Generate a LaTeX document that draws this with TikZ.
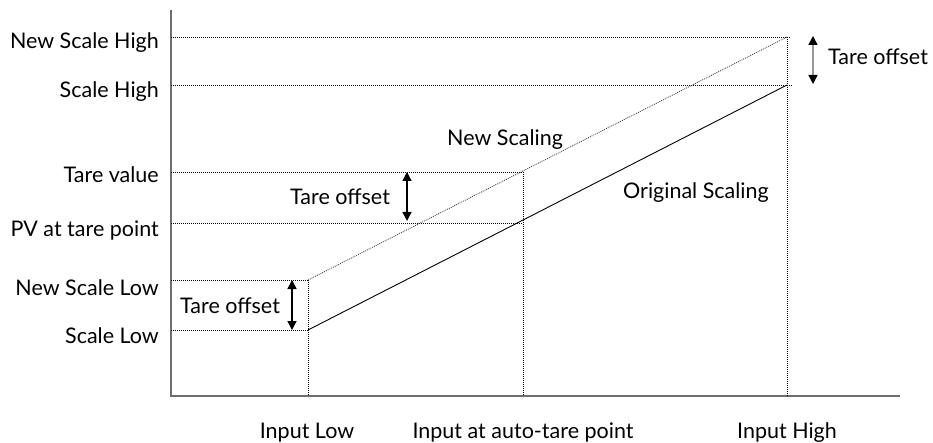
\documentclass[tikz,border=0pt]{standalone}
\usepackage{fontspec}
\setmainfont{Lato}
\usepackage{tikz}
\usetikzlibrary{arrows.meta, positioning}
\definecolor{axisgray}{RGB}{110,110,110}

\begin{document}
\begin{tikzpicture}[
    x=1pt, y=-1pt,
    font=\fontsize{21.5}{24}\selectfont,
    axis/.style = {draw=axisgray, line width=1.4pt},
    guide/.style = {draw=black, line width=0.7pt, dash pattern=on 1pt off 1pt},
    orig/.style = {draw=black, line width=0.9pt},
    newscale/.style = {draw=black!75, line width=0.8pt, dash pattern=on 1pt off 1pt},
    tare/.style = {{Triangle[length=9pt,width=9pt,color=black]}-{Triangle[length=9pt,width=9pt,color=black]}, line width=1.4pt},
    ylab/.style = {anchor=base east, inner sep=0pt},
    xlab/.style = {anchor=base, inner sep=0pt},
    txt/.style = {anchor=base west, inner sep=0pt}
]
\useasboundingbox (0,0) rectangle (933,443);

% axes
\coordinate (o) at (171,396);
\coordinate (ytop) at (171,10);
\coordinate (xend) at (900,396);
\draw [axis] (ytop) -- (o) -- (xend);

% points on the scaling lines
\coordinate (lo) at (308,330);
\coordinate (nlo) at (308,280);
\coordinate (pv) at (523,223);
\coordinate (tv) at (523,172);
\coordinate (hi) at (787,85);
\coordinate (nhi) at (787,37);

% left labels
\node (l_nsh) [ylab] at (159,49) {New Scale High};
\node (l_sh) [ylab] at (159,98) {Scale High};
\node (l_tv) [ylab] at (159,183) {Tare value};
\node (l_pv) [ylab] at (159,237) {PV at tare point};
\node (l_nsl) [ylab] at (159,295) {New Scale Low};
\node (l_sl) [ylab] at (159,343) {Scale Low};

% bottom labels
\node (b_low) [xlab] at (307,438) {Input Low};
\node (b_tare) [xlab] at (523,438) {Input at auto-tare point};
\node (b_high) [xlab] at (787,438) {Input High};

% guide lines
\draw [guide] (171,37) -- (790,37);
\draw [guide] (171,85) -- (792,85);
\draw [guide] (171,172) -- (tv);
\draw [guide] (171,223) -- (pv);
\draw [guide] (171,280) -- (nlo);
\draw [guide] (171,330) -- (lo);
\draw [guide] (nlo) -- (nlo |- o);
\draw [guide] (tv) -- (tv |- o);
\draw [guide] (nhi) -- (nhi |- o);

% scaling lines
\draw [orig] (lo) -- (hi);
\draw [newscale] (nlo) -- (nhi);
\node (t_new) [txt] at (447,146) {New Scaling};
\node (t_orig) [txt] at (623,199) {Original Scaling};

% tare offsets
\draw [tare] (292,280) -- (292,330);
\node (t_off1) [txt] at (180,313) {Tare offset};
\draw [tare] (407,172) -- (407,221);
\node (t_off2) [txt] at (290,205) {Tare offset};
\draw [tare, draw=black!40] (813,36) -- (813,84);
\node (t_off3) [txt] at (828,65) {Tare offset};

\end{tikzpicture}
\end{document}
